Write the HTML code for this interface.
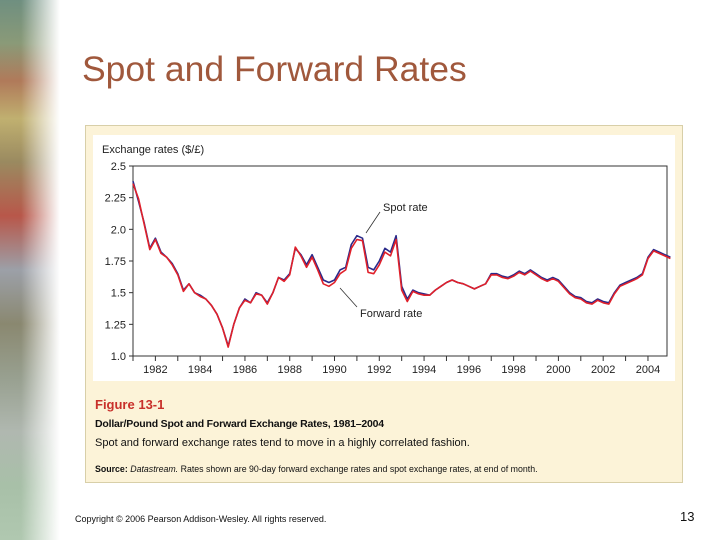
<!DOCTYPE html>
<html><head><meta charset="utf-8"><style>
body{margin:0;width:720px;height:540px;overflow:hidden;background:#fff;font-family:"Liberation Sans",sans-serif;position:relative}
#strip{position:absolute;left:0;top:0;width:60px;height:540px;background:linear-gradient(180deg,#6f8f80 0,#8a9a78 8%,#b07a5a 15%,#c0b070 22%,#9a8a60 30%,#b8574a 40%,#9ca0a8 50%,#8a8870 60%,#98a090 70%,#b0b8b0 80%,#a8c0a8 90%,#b0c8b0 100%)}
#fade{position:absolute;left:0;top:0;width:60px;height:540px;background:linear-gradient(90deg,rgba(255,255,255,0) 0,rgba(255,255,255,0) 35%,#fff 100%)}
</style></head><body>
<div id="strip"></div>
<div id="fade"></div>
<div style="position:absolute;left:82px;top:49px;font-size:35.5px;color:#a0583c">Spot and Forward Rates</div>
<div style="position:absolute;left:85px;top:125px;width:596px;height:356px;background:#fcf3d8;border:1px solid #d8cfa8"></div>
<div style="position:absolute;left:93px;top:135px;width:582px;height:246px;background:#fff"></div>
<svg id="chart" width="720" height="540" style="position:absolute;left:0;top:0">
<text x="102" y="153" font-size="11" fill="#222">Exchange rates ($/£)</text>
</svg>
<div style="position:absolute;left:95px;top:397px;font-size:13px;font-weight:bold;color:#c8302a">Figure 13-1</div>
<div style="position:absolute;left:95px;top:418px;font-size:10.5px;font-weight:bold;color:#111;letter-spacing:-0.2px">Dollar/Pound Spot and Forward Exchange Rates, 1981–2004</div>
<div style="position:absolute;left:95px;top:437px;font-size:11px;color:#111">Spot and forward exchange rates tend to move in a highly correlated fashion.</div>
<div style="position:absolute;left:95px;top:464px;font-size:8.8px;color:#111"><b>Source:</b> <i>Datastream.</i> Rates shown are 90-day forward exchange rates and spot exchange rates, at end of month.</div>
<div style="position:absolute;left:75px;top:514px;font-size:9px;color:#111">Copyright © 2006 Pearson Addison-Wesley. All rights reserved.</div>
<div style="position:absolute;left:680px;top:509px;font-size:13px;color:#111">13</div>
<script>
const startYear=1981, step=0.25;
const spot=[2.38,2.22,2.05,1.85,1.93,1.82,1.78,1.73,1.65,1.52,1.57,1.50,1.48,1.45,1.40,1.33,1.22,1.08,1.25,1.38,1.45,1.42,1.50,1.48,1.42,1.50,1.62,1.60,1.65,1.85,1.80,1.72,1.80,1.70,1.60,1.58,1.60,1.68,1.70,1.88,1.95,1.93,1.70,1.68,1.75,1.85,1.82,1.95,1.55,1.45,1.52,1.50,1.49,1.48,1.52,1.55,1.58,1.60,1.58,1.57,1.55,1.53,1.55,1.57,1.65,1.65,1.63,1.62,1.64,1.67,1.65,1.68,1.65,1.62,1.60,1.62,1.60,1.55,1.50,1.47,1.46,1.43,1.42,1.45,1.43,1.42,1.50,1.56,1.58,1.60,1.62,1.65,1.78,1.84,1.82,1.80,1.78];
const forward=[2.36,2.24,2.04,1.84,1.92,1.81,1.78,1.72,1.64,1.51,1.57,1.50,1.47,1.45,1.40,1.33,1.22,1.07,1.25,1.38,1.44,1.42,1.49,1.48,1.41,1.50,1.62,1.59,1.64,1.86,1.79,1.70,1.78,1.68,1.57,1.55,1.58,1.65,1.68,1.85,1.92,1.91,1.66,1.65,1.72,1.82,1.79,1.92,1.52,1.43,1.51,1.49,1.48,1.48,1.52,1.55,1.58,1.60,1.58,1.57,1.55,1.53,1.55,1.57,1.64,1.64,1.62,1.61,1.63,1.66,1.64,1.67,1.64,1.61,1.59,1.61,1.59,1.54,1.49,1.46,1.45,1.42,1.41,1.44,1.42,1.41,1.49,1.55,1.57,1.59,1.61,1.64,1.77,1.83,1.81,1.79,1.77];
const yTicks=[1.0,1.25,1.5,1.75,2.0,2.25,2.5];
const yLabels=["1.0","1.25","1.5","1.75","2.0","2.25","2.5"];
const xTicks=[1982,1984,1986,1988,1990,1992,1994,1996,1998,2000,2002,2004];
const L=133,R=667,T=166,B=356,x0=1981,x1=2004.85;
const X=v=>L+(v-x0)/(x1-x0)*(R-L);
const Y=v=>B-(v-1.0)/(1.5)*(B-T);
const svg=document.getElementById('chart');
const NS='http://www.w3.org/2000/svg';
function mk(t,a){const e=document.createElementNS(NS,t);for(const k in a)e.setAttribute(k,a[k]);svg.appendChild(e);return e;}
let e=mk('rect',{x:L,y:T,width:R-L,height:B-T,fill:'none',stroke:'#333','stroke-width':1});


yTicks.forEach((v,i)=>{
 const t=mk('line',{x1:L-4,x2:L,y1:Y(v),y2:Y(v),stroke:'#333'});
 
 
 const l=mk('text',{x:L-7,y:Y(v)+4,'font-size':11,'text-anchor':'end',fill:'#222'});
 l.textContent=yLabels[i];
 
 
});
for(let y=1981;y<=2004;y++){
 const t=mk('line',{x1:X(y),x2:X(y),y1:B,y2:B+5,stroke:'#333'});
 
 
}
xTicks.forEach(y=>{
 const l=mk('text',{x:X(y),y:B+17,'font-size':11,'text-anchor':'middle',fill:'#222'});
 l.textContent=y;
 
 
});
function path(arr,color,name){
 const d=arr.map((v,i)=>(i?'L':'M')+X(startYear+i*step).toFixed(1)+','+Y(v).toFixed(1)).join('');
 const p=mk('path',{d:d,fill:'none',stroke:color,'stroke-width':1.6,'stroke-linejoin':'round'});
 
 
}
path(spot,'#2a2a8a','spot-rate-line');
path(forward,'#e0202a','forward-rate-line');
let a=mk('line',{x1:366,y1:233,x2:380,y2:212,stroke:'#333','stroke-width':0.8});


let s=mk('text',{x:383,y:211,'font-size':11,fill:'#222'});s.textContent='Spot rate';


a=mk('line',{x1:340,y1:288,x2:357,y2:307,stroke:'#333','stroke-width':0.8});


s=mk('text',{x:360,y:317,'font-size':11,fill:'#222'});s.textContent='Forward rate';


</script>
</body></html>
